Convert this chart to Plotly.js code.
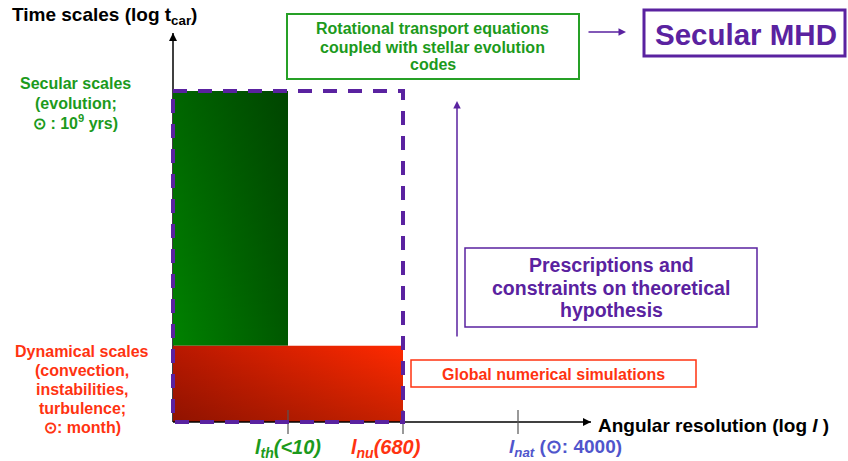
<!DOCTYPE html>
<html><head><meta charset="utf-8">
<script src="https://cdn.plot.ly/plotly-3.0.1.min.js"></script>
<style>html,body{margin:0;padding:0;background:#fff}</style>
</head><body><div id="chart" style="width:848px;height:461px"></div>
<script>
// ---- data (schematic diagram values) ----
const lLabels = ['th', 'nu', 'nat'];            // characteristic angular degrees
const lValues = ['(<10)', '(680)', '(⊙: 4000)'];
const lPos = [1, 2, 3];                         // schematic positions on log l axis
const tNames = ['Dynamical scales', 'Secular scales'];
const tLevels = [0.23, 1.0];                    // schematic levels on log t_car axis
const axisEnds = [3.635, 1.175];                // arrow tips of x and y axes

// ---- styles ----
const W = 848, H = 461;
const FONT = 'Liberation Sans, Arial, Helvetica, sans-serif';
const GREEN = '#1c9a1c', RED = '#ff3311', PURPLE = '#5a22a0', BLUE = '#5055cc';
const px = v => v / W, py = v => 1 - v / H;

const traces = [];
// y axis line (below the fills) with arrowhead
traces.push({x: [0, 0], y: [0, axisEnds[1]], mode: 'lines', line: {color: '#000', width: 1.5}, hoverinfo: 'skip'});
traces.push({x: [0], y: [axisEnds[1]], mode: 'markers', marker: {symbol: 'arrow-up', size: 8, color: '#000'}, hoverinfo: 'skip'});
// secular (green) region
const gx = [0, lPos[0], lPos[0], 0, 0], gy = [tLevels[0], tLevels[0], tLevels[1], tLevels[1], tLevels[0]];
traces.push({x: gx, y: gy, mode: 'none', fill: 'toself',
  fillgradient: {type: 'horizontal', colorscale: [[0, '#008200'], [1, '#005800']]}, hoverinfo: 'skip'});
traces.push({x: gx, y: gy, mode: 'none', fill: 'toself',
  fillgradient: {type: 'vertical', colorscale: [[0, 'rgba(0,0,0,0)'], [1, 'rgba(0,0,0,0.22)']]}, hoverinfo: 'skip'});
// dynamical (red) region
const rx = [0, lPos[1], lPos[1], 0, 0], ry = [0, 0, tLevels[0], tLevels[0], 0];
traces.push({x: rx, y: ry, mode: 'none', fill: 'toself',
  fillgradient: {type: 'horizontal', colorscale: [[0, '#b81800'], [1, '#ff2a00']]}, hoverinfo: 'skip'});
traces.push({x: rx, y: ry, mode: 'none', fill: 'toself',
  fillgradient: {type: 'vertical', colorscale: [[0, 'rgba(0,0,0,0.22)'], [1, 'rgba(0,0,0,0)']]}, hoverinfo: 'skip'});
// x axis line with arrowhead
traces.push({x: [0, axisEnds[0]], y: [0, 0], mode: 'lines', line: {color: '#000', width: 1.5}, hoverinfo: 'skip'});
traces.push({x: [axisEnds[0]], y: [0], mode: 'markers', marker: {symbol: 'arrow-right', size: 8, color: '#000'}, hoverinfo: 'skip'});
// ticks
traces.push({x: lPos, y: lPos.map(() => 0), mode: 'markers',
  marker: {symbol: 'line-ns', size: 17, line: {width: 1.2, color: '#555'}}, hoverinfo: 'skip'});
// dashed box (domain of current models)
traces.push({x: [0, lPos[1], lPos[1], 0, 0], y: [tLevels[1], tLevels[1], 0, 0, tLevels[1]], mode: 'lines',
  line: {color: PURPLE, width: 4, dash: '14px,11px'}, hoverinfo: 'skip'});

const ann = [];
// purple arrows
ann.push({xref: 'paper', yref: 'paper', x: px(457), y: py(101), ax: 0, ay: 237, text: '', showarrow: true,
  arrowhead: 2, arrowsize: 1, arrowwidth: 1.5, arrowcolor: PURPLE, standoff: 0});
ann.push({xref: 'paper', yref: 'paper', x: px(626), y: py(32), ax: -39, ay: 0, text: '', showarrow: true,
  arrowhead: 2, arrowsize: 1, arrowwidth: 1.5, arrowcolor: PURPLE, standoff: 0});

function lines(xc, ys, arr, size, color, anchor) {
  arr.forEach((t, i) => ann.push({xref: 'paper', yref: 'paper', x: px(xc), y: py(ys[i]),
    text: '<b>' + t + '</b>', showarrow: false, xanchor: anchor || 'center', yanchor: 'middle',
    font: {family: FONT, size: size, color: color}}));
}
const esc = s => s.replace(/</g, '&lt;');

// titles
lines(10, [16], ['Time scales (log t<sub>car</sub>)'], 19, '#000', 'left');
lines(596, [425], ['Angular resolution (log <i>l</i> )'], 19, '#000', 'left');
// left labels
lines(75.5, [84, 103, 122], [tNames[1], '(evolution;', '⊙ : 10<sup>9</sup> yrs)'], 16, GREEN);
lines(82, [351, 370, 389, 408, 427], [tNames[0], '(convection,', 'instabilities,', 'turbulence;', '⊙: month)'], 16, RED);
// tick labels
const tickColors = [GREEN, RED, BLUE], tickShift = [0, -17, -11], tickAnchor = ['center', 'center', 'left'];
lPos.forEach((p, i) => {
  const italic = i < 2;
  const txt = '<b><i>l</i><sub><i>' + lLabels[i] + '</i></sub>' +
    (italic ? '<i>' + esc(lValues[i]) + '</i>' : ' ' + esc(lValues[i])) + '</b>';
  ann.push({xref: 'x', yref: 'paper', x: p, y: py(448), xshift: tickShift[i], text: txt, showarrow: false,
    xanchor: tickAnchor[i], yanchor: 'middle', font: {family: FONT, size: i < 2 ? 20 : 19, color: tickColors[i]}});
});
// boxes texts
lines(433, [29, 47.5, 65], ['Rotational transport equations', 'coupled with stellar evolution', 'codes'], 16, GREEN);
lines(746, [34], ['Secular MHD'], 29.5, PURPLE);
lines(611, [265, 288, 310], ['Prescriptions and', 'constraints on theoretical', 'hypothesis'], 19.5, PURPLE);
lines(553.5, [374], ['Global numerical simulations'], 16, RED);

const rect = (x0, y0, x1, y1, color, w) => ({type: 'rect', xref: 'paper', yref: 'paper',
  x0: px(x0), x1: px(x1), y0: py(y1), y1: py(y0), line: {color: color, width: w}, fillcolor: 'rgba(0,0,0,0)'});
const shapes = [
  rect(287, 14, 579, 79, '#26a026', 2),
  rect(644, 10, 845, 56, PURPLE, 3),
  rect(465, 248, 757, 327, PURPLE, 1.5),
  rect(411, 360, 696, 387, RED, 1.5)
];

const layout = {
  width: W, height: H, margin: {l: 0, r: 0, t: 0, b: 0, pad: 0},
  paper_bgcolor: '#fff', plot_bgcolor: '#fff', showlegend: false,
  xaxis: {range: [-173 / 115, 675 / 115], visible: false, fixedrange: true},
  yaxis: {range: [-39 / 331, 422 / 331], visible: false, fixedrange: true},
  annotations: ann, shapes: shapes, hovermode: false
};
Plotly.newPlot('chart', traces, layout, {staticPlot: true, displayModeBar: false});
</script></body></html>
